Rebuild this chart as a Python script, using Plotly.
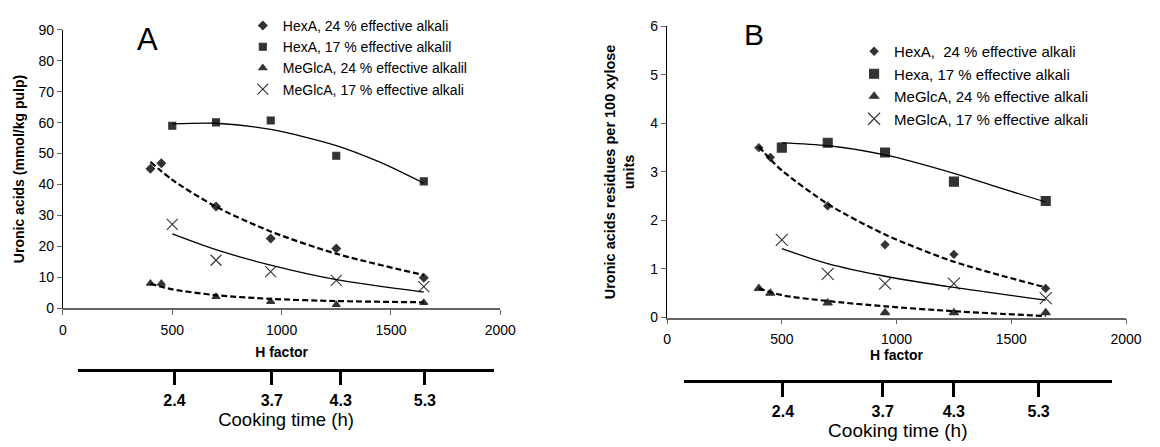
import plotly.graph_objects as go

W, H = 1160, 447

# ---------------- Panel A data (mmol/kg pulp) ----------------
hA_hexa24 = [400, 450, 700, 950, 1250, 1650]
A_hexa24 = [45.1, 46.9, 32.9, 22.5, 19.3, 9.8]
hA_hexa17 = [500, 700, 950, 1250, 1650]
A_hexa17 = [59.0, 60.1, 60.7, 49.3, 41.0]
hA_meg24 = [400, 450, 700, 950, 1250, 1650]
A_meg24 = [8.0, 8.0, 3.7, 2.1, 1.1, 1.8]
hA_meg17 = [500, 700, 950, 1250, 1650]
A_meg17 = [27.1, 15.5, 11.8, 9.0, 7.0]

# trend lines
tA_hexa24_h = [400, 500, 700, 950, 1250, 1650]
tA_hexa24 = [47.3, 41.5, 32.8, 24.8, 17.6, 10.7]
tA_hexa17_h = [500, 700, 950, 1250, 1450, 1650]
tA_hexa17 = [59.6, 59.8, 57.8, 52.6, 47.2, 40.4]
tA_meg24_h = [400, 500, 700, 950, 1250, 1650]
tA_meg24 = [7.9, 6.1, 4.2, 3.0, 2.3, 1.9]
tA_meg17_h = [500, 700, 950, 1250, 1650]
tA_meg17 = [24.0, 18.9, 13.9, 9.2, 5.2]

# ---------------- Panel B data (per 100 xylose units) ----------------
hB_hexa24 = [400, 450, 700, 950, 1250, 1650]
B_hexa24 = [3.5, 3.3, 2.3, 1.5, 1.3, 0.6]
hB_hexa17 = [500, 700, 950, 1250, 1650]
B_hexa17 = [3.5, 3.6, 3.4, 2.8, 2.4]
hB_meg24 = [400, 450, 700, 950, 1250, 1650]
B_meg24 = [0.6, 0.5, 0.3, 0.1, 0.1, 0.1]
hB_meg17 = [500, 700, 950, 1250, 1650]
B_meg17 = [1.6, 0.9, 0.7, 0.7, 0.4]

tB_hexa24_h = [400, 450, 500, 700, 950, 1250, 1650]
tB_hexa24 = [3.52, 3.26, 3.03, 2.34, 1.71, 1.15, 0.62]
tB_hexa17_h = [500, 700, 950, 1250, 1450, 1650]
tB_hexa17 = [3.60, 3.54, 3.35, 2.97, 2.67, 2.38]
tB_meg24_h = [400, 500, 700, 950, 1250, 1650]
tB_meg24 = [0.60, 0.46, 0.34, 0.23, 0.13, 0.03]
tB_meg17_h = [500, 700, 950, 1250, 1650]
tB_meg17 = [1.42, 1.11, 0.85, 0.62, 0.36]

# cooking time secondary axis
cook_labels = ["2.4", "3.7", "4.3", "5.3"]
cook_h_A = [510, 955, 1270, 1655]
cook_h_B = [505, 940, 1250, 1620]

legend_A = ["HexA, 24 % effective alkali", "HexA, 17 % effective alkalil",
            "MeGlcA, 24 % effective alkalil", "MeGlcA, 17 % effective alkali"]
legend_B = ["HexA,\u00a0 24 % effective alkali", "Hexa, 17 % effective alkali",
            "MeGlcA, 24 % effective alkali", "MeGlcA, 17 % effective alkali"]

MC = "#333333"
FONT = "Arial, Liberation Sans, sans-serif"

fig = go.Figure()


def add_panel(xa, ya, leg, names, pts, trends, sizes):
    symbols = ["diamond", "square", "triangle-up", "x-thin-open"]
    for i, ((hx, vy), nm) in enumerate(zip(pts, names)):
        fig.add_trace(go.Scatter(
            x=hx, y=vy, mode="markers", name=nm, xaxis=xa, yaxis=ya,
            legend=leg, legendgroup=f"{leg}{i}", cliponaxis=False,
            marker=dict(symbol=symbols[i], size=sizes[i], color=MC,
                        line=dict(color=MC, width=1.1))))
    dashes = ["6px,3px", "solid", "6px,3px", "solid"]
    widths = [2.2, 1.3, 2.2, 1.3]
    for i, (hx, vy) in enumerate(trends):
        fig.add_trace(go.Scatter(
            x=hx, y=vy, mode="lines", xaxis=xa, yaxis=ya, showlegend=False,
            hoverinfo="skip", cliponaxis=False,
            line=dict(color="black", width=widths[i], dash=dashes[i],
                      shape="spline", smoothing=0.8)))


add_panel("x", "y", "legend", legend_A,
          [(hA_hexa24, A_hexa24), (hA_hexa17, A_hexa17),
           (hA_meg24, A_meg24), (hA_meg17, A_meg17)],
          [(tA_hexa24_h, tA_hexa24), (tA_hexa17_h, tA_hexa17),
           (tA_meg24_h, tA_meg24), (tA_meg17_h, tA_meg17)],
          [6.5, 7, 7, 11])
add_panel("x2", "y2", "legend2", legend_B,
          [(hB_hexa24, B_hexa24), (hB_hexa17, B_hexa17),
           (hB_meg24, B_meg24), (hB_meg17, B_meg17)],
          [(tB_hexa24_h, tB_hexa24), (tB_hexa17_h, tB_hexa17),
           (tB_meg24_h, tB_meg24), (tB_meg17_h, tB_meg17)],
          [6, 9, 8, 12])

# invisible carriers for the cooking time axes
fig.add_trace(go.Scatter(x=cook_h_A, y=[0.5] * 4, xaxis="x3", yaxis="y3",
                         mode="markers", marker=dict(opacity=0),
                         showlegend=False, hoverinfo="skip"))
fig.add_trace(go.Scatter(x=cook_h_B, y=[0.5] * 4, xaxis="x4", yaxis="y4",
                         mode="markers", marker=dict(opacity=0),
                         showlegend=False, hoverinfo="skip"))

xcommon = dict(range=[0, 2000], tickvals=[0, 500, 1000, 1500, 2000],
               ticks="outside", ticklen=5, tickcolor="#666", tickwidth=1.3,
               showline=True, linecolor="#666", linewidth=1.5,
               showgrid=False, zeroline=False,
               tickfont=dict(size=14, color="black"))
ycommon = dict(ticks="outside", ticklen=5, tickcolor="#666", tickwidth=1.3,
               showline=True, linecolor="black", linewidth=1.3,
               showgrid=False, zeroline=False,
               tickfont=dict(size=14, color="black"))
cook_common = dict(ticks="outside", ticklen=14, tickwidth=2.5,
                   tickcolor="black", showline=True, linecolor="black",
                   linewidth=2.5, showgrid=False, zeroline=False,
                   tickfont=dict(size=16, color="black", weight="bold"),
                   ticktext=cook_labels, ticklabelstandoff=1)

fig.update_layout(
    width=W, height=H, margin=dict(l=0, r=0, t=0, b=0),
    paper_bgcolor="white", plot_bgcolor="white",
    font=dict(family=FONT, color="black"),
    xaxis=dict(xcommon, domain=[60 / W, 505 / W], anchor="y",
               ticklabelstandoff=3,
               title=dict(text="<b>H factor</b>", font=dict(size=14),
                          standoff=10)),
    yaxis=dict(ycommon, domain=[1 - 311.3 / H, 1 - 22.7 / H], anchor="x",
               range=[0, 90], tickvals=list(range(0, 91, 10)),
               title=dict(text="<b>Uronic acids (mmol/kg pulp)</b>",
                          font=dict(size=14), standoff=10)),
    xaxis2=dict(xcommon, domain=[674.7 / W, 1141.7 / W], anchor="y2",
                ticklabelstandoff=3,
                title=dict(text="<b>H factor</b>", font=dict(size=14),
                           standoff=0)),
    yaxis2=dict(ycommon, domain=[1 - 321 / H, 1 - 19 / H], anchor="x2",
                range=[0, 6], tickvals=list(range(0, 7)),
                title=dict(text="<b>Uronic acids residues per 100 xylose<br>units</b>",
                           font=dict(size=14.5), standoff=12)),
    xaxis3=dict(cook_common, domain=[75 / W, 499 / W], anchor="y3",
                range=[67.4, 1973], tickvals=cook_h_A,
                title=dict(text="Cooking time (h)", font=dict(size=18.5),
                           standoff=5)),
    yaxis3=dict(domain=[1 - 374 / H, 1 - 372 / H], range=[0, 1],
                visible=False, anchor="x3"),
    xaxis4=dict(cook_common, domain=[692 / W, 1127 / W], anchor="y4",
                range=[74, 1938], tickvals=cook_h_B,
                title=dict(text="Cooking time (h)", font=dict(size=19),
                           standoff=4)),
    yaxis4=dict(domain=[1 - 386 / H, 1 - 384 / H], range=[0, 1],
                visible=False, anchor="x4"),
    legend=dict(x=243 / W, y=1 - 2 / H, xanchor="left", yanchor="top",
                bgcolor="rgba(0,0,0,0)", font=dict(size=14),
                tracegroupgap=0, itemwidth=30, traceorder="normal"),
    legend2=dict(x=865 / W, y=1 - 28 / H, xanchor="left", yanchor="top",
                 bgcolor="rgba(0,0,0,0)", font=dict(size=15),
                 tracegroupgap=2, itemwidth=30, traceorder="normal"),
    annotations=[
        dict(text="A", x=146 / W, y=1 - 33 / H, xref="paper", yref="paper",
             xanchor="center", yanchor="middle",
             showarrow=False, font=dict(size=31)),
        dict(text="B", x=763 / W, y=1 - 27 / H, xref="paper", yref="paper",
             xanchor="center", yanchor="middle",
             showarrow=False, font=dict(size=30)),
    ],
    showlegend=True,
)

fig.write_html("out.html", config={"displayModeBar": False},
               post_script="document.body.style.margin='0px';")
